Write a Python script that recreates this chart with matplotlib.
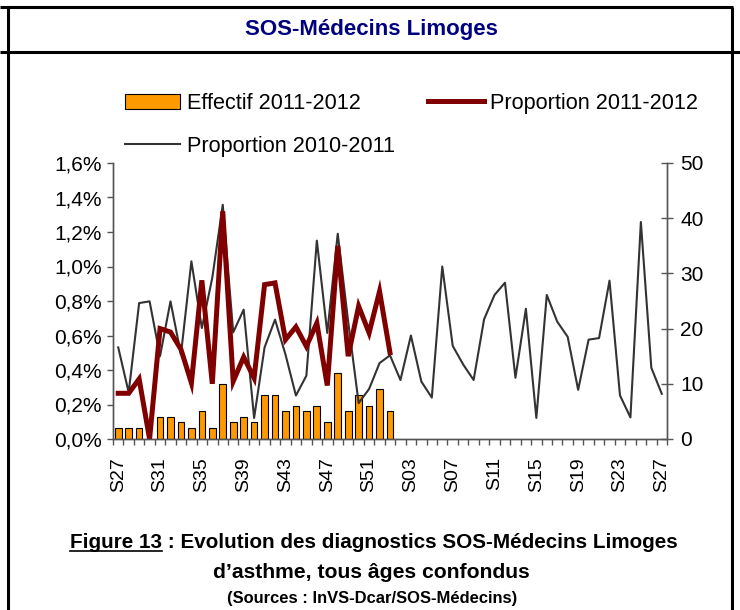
import matplotlib
matplotlib.use('Agg')
import matplotlib.pyplot as plt
from matplotlib import font_manager as fm
from matplotlib.lines import Line2D
from matplotlib.ticker import FuncFormatter

# weeks S27 2011 -> S27 2012
weeks = ['S%02d' % w for w in range(27, 53)] + ['S%02d' % w for w in range(1, 28)]

# effectif 2011-2012 (right axis), S27 -> S01
effectif_1112 = [2, 2, 2, 0, 4, 4, 3, 2, 5, 2, 10, 3, 4, 3, 8, 8, 5, 6,
                 5, 6, 3, 12, 5, 8, 6, 9, 5]

# proportion 2011-2012 (%), S27 -> S01
prop_1112 = [0.265, 0.265, 0.348, 0.0, 0.64, 0.62, 0.52, 0.325, 0.92, 0.32,
             1.32, 0.334, 0.475, 0.354, 0.895, 0.905, 0.576, 0.65, 0.537,
             0.672, 0.31, 1.12, 0.48, 0.77, 0.615, 0.856, 0.5]

# proportion 2010-2011 (%), full year
prop_1011 = [0.531, 0.27, 0.788, 0.798, 0.48, 0.798, 0.49, 1.03, 0.643, 0.935,
             1.358, 0.618, 0.75, 0.122, 0.531, 0.692, 0.49, 0.252, 0.367, 1.15,
             0.615, 1.19, 0.68, 0.208, 0.29, 0.44, 0.485, 0.342, 0.60, 0.333,
             0.24, 1.0, 0.54, 0.432, 0.342, 0.694, 0.835, 0.906, 0.355, 0.755,
             0.122, 0.835, 0.68, 0.592, 0.285, 0.576, 0.585, 0.918, 0.253,
             0.125, 1.258, 0.413, 0.262]

avail = {f.name for f in fm.fontManager.ttflist}
if 'Liberation Sans Narrow' in avail:
    NARROW, NS = 'Liberation Sans Narrow', 1.19
else:
    NARROW, NS = 'Liberation Sans', 1.0

plt.rcParams['font.family'] = ['Liberation Sans', 'DejaVu Sans']

W, H = 740, 610
fig = plt.figure(figsize=(W / 100, H / 100), dpi=100)
fig.patch.set_facecolor('white')

def fx(px):
    return px / W

def fy(py):
    return 1 - py / H

ax = fig.add_axes([fx(113), fy(439), fx(667) - fx(113), fy(163) - fy(439)])
ax2 = ax.twinx()
ax.set_zorder(ax2.get_zorder() + 1)
ax.patch.set_visible(False)

x_all = list(range(len(weeks)))
x_bar = list(range(len(effectif_1112)))

bars = ax2.bar(x_bar, effectif_1112, width=0.64, color='#FF9900',
               edgecolor='black', linewidth=0.8, label='Effectif 2011-2012')
l_1011, = ax.plot(x_all, prop_1011, color='#333333', lw=1.5,
                  label='Proportion 2010-2011')
l_1112, = ax.plot(list(range(len(prop_1112))), prop_1112, color='#800000',
                  lw=3.6, label='Proportion 2011-2012', solid_joinstyle='miter')

ax.set_xlim(-0.5, len(weeks) - 0.5)
ax.set_ylim(0, 1.6)
ax2.set_ylim(0, 50)

spine_c = '#555555'
for a in (ax, ax2):
    a.spines['top'].set_visible(False)
    for s in ('left', 'right', 'bottom'):
        a.spines[s].set_color(spine_c)
        a.spines[s].set_linewidth(1.0)

ax.set_yticks([i * 0.2 for i in range(9)])
ax.yaxis.set_major_formatter(FuncFormatter(lambda v, p: ('%.1f%%' % v).replace('.', ',')))
ax.tick_params(axis='y', direction='out', length=4, width=1, color=spine_c,
               labelsize=15, pad=4)
ax2.set_yticks(range(0, 51, 10))
ax2.tick_params(axis='y', direction='inout', length=9, width=1, color=spine_c,
                labelsize=15, pad=5)

ax.set_xticks(x_all[::4])
ax.set_xticklabels(weeks[::4], rotation=90)
ax.set_xticks([i - 0.5 for i in range(len(weeks) + 1)], minor=True)
ax.tick_params(axis='x', which='major', length=0, labelsize=14, pad=13)
ax.tick_params(axis='x', which='minor', direction='out', length=4, width=1,
               color=spine_c)
ax2.tick_params(axis='x', which='both', length=0)

leg = fig.legend(handles=[bars, l_1011, l_1112],
                 labels=['Effectif 2011-2012', 'Proportion 2010-2011',
                         'Proportion 2011-2012'],
                 ncol=2, frameon=False, fontsize=15.6, loc='upper left',
                 bbox_to_anchor=(fx(125), fy(93)), borderpad=0,
                 borderaxespad=0, handlelength=2.55, handleheight=0.7,
                 handletextpad=0.3, columnspacing=1.55, labelspacing=1.0)

# frame around the figure
fl = dict(color='black', lw=2.2, solid_capstyle='butt')
fig.add_artist(Line2D([fx(0), fx(733)], [fy(7), fy(7)], transform=fig.transFigure, **fl))
fig.add_artist(Line2D([fx(0), fx(740)], [fy(52), fy(52)], transform=fig.transFigure, **fl))
fig.add_artist(Line2D([fx(7.5), fx(7.5)], [fy(7), fy(610)], transform=fig.transFigure, **fl))
fig.add_artist(Line2D([fx(732), fx(732)], [fy(7), fy(610)], transform=fig.transFigure, **fl))

fig.text(fx(371), fy(34.5), 'SOS-Médecins Limoges', ha='center', va='baseline',
         color='#000080', fontsize=16 * NS, fontweight='bold', family=NARROW)

cap = dict(ha='center', va='baseline', color='black', fontweight='bold', family=NARROW)
line1 = 'Figure 13 : Evolution des diagnostics SOS-Médecins Limoges'
t1 = fig.text(fx(374), fy(548), line1, fontsize=14.9 * NS, **cap)
fig.text(fx(371), fy(578), 'd\u2019asthme, tous âges confondus', fontsize=15.2 * NS, **cap)
fig.text(fx(372), fy(603), '(Sources : InVS-Dcar/SOS-Médecins)', fontsize=11.9 * NS, **cap)

# underline "Figure 13"
r = fig.canvas.get_renderer()
bb = t1.get_window_extent(r)
tmp = fig.text(0, 0, 'Figure 13', fontsize=14.9 * NS, fontweight='bold', family=NARROW)
wpart = tmp.get_window_extent(r).width
tmp.remove()
uy = (H - 548 - 3) / H
fig.add_artist(Line2D([bb.x0 / W, (bb.x0 + wpart) / W], [uy, uy],
                      transform=fig.transFigure, color='black', lw=1.2))

fig.savefig('out.png', dpi=100)
